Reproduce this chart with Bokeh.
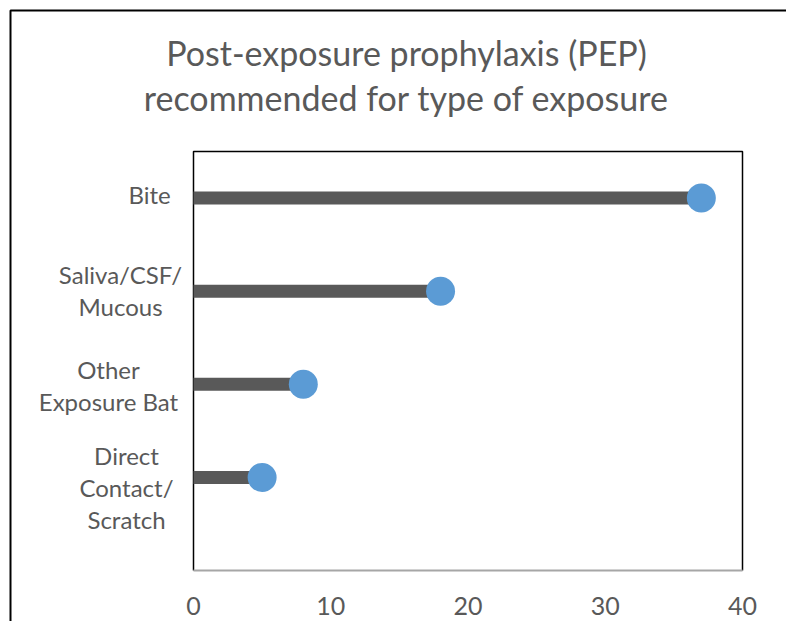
from bokeh.plotting import figure
from bokeh.models import Range1d, FixedTicker, LinearAxis
from bokeh.core.properties import value
from bokeh.embed import file_html
from bokeh.resources import INLINE

# ---- data ----
categories = ["Direct\nContact/\nScratch", "Other\nExposure Bat", "Saliva/CSF/\nMucous", "Bite"]
values = [5, 8, 18, 37]
x_ticks = [0, 10, 20, 30, 40]
y_max = 4.5
title_lines = ["Post-exposure prophylaxis (PEP)", "recommended for type of exposure"]

# ---- styles / layout (pixels from figure top-left) ----
FONT = "Lato"
GREY_TEXT = "#595959"
LINE_COLOR = "#595959"
DOT_COLOR = "#5B9BD5"
W, H = 786, 621
AREA_LEFT, AREA_RIGHT = 193, 742
AREA_TOP, AREA_BOTTOM = 151, 570
BORDER_X, BORDER_Y = 10, 10
label_x_offsets = [-67, -85, -73, -44]
label_y_offsets = [10, 1, -1, -4]
title_centre_x = 406
title_centre_y = [52, 97]

positions = list(range(1, len(categories) + 1))

ppu_x = (AREA_RIGHT - AREA_LEFT) / (x_ticks[-1] - x_ticks[0])
ppu_y = (AREA_BOTTOM - AREA_TOP) / y_max
x_start = x_ticks[0] - AREA_LEFT / ppu_x
x_end = x_ticks[-1] + (W - AREA_RIGHT) / ppu_x
y_start = -(H - AREA_BOTTOM) / ppu_y
y_end = y_max + AREA_TOP / ppu_y

def px_to_x(px):
    return x_start + px / ppu_x

def px_to_y(py):
    return y_end - py / ppu_y

p = figure(width=W, height=H, output_backend="svg", toolbar_location=None,
           x_range=Range1d(x_start, x_end), y_range=Range1d(y_start, y_end),
           x_axis_type=None, y_axis_type=None,
           min_border_left=0, min_border_right=0, min_border_top=0, min_border_bottom=0)

p.background_fill_color = "white"
p.border_fill_color = "white"
p.outline_line_color = None
p.grid.visible = False

xaxis = LinearAxis(fixed_location=0, ticker=FixedTicker(ticks=x_ticks),
                   bounds=(x_ticks[0], x_ticks[-1]))
xaxis.major_tick_line_color = None
xaxis.minor_tick_line_color = None
xaxis.axis_line_color = "#a6a6a6"
xaxis.axis_line_width = 2
xaxis.major_label_text_font = FONT
xaxis.major_label_text_font_size = "25px"
xaxis.major_label_text_color = GREY_TEXT
xaxis.major_label_standoff = 20
p.add_layout(xaxis, "below")

# outer chart border (left and top)
p.line(x=[px_to_x(BORDER_X), px_to_x(BORDER_X), px_to_x(W)],
       y=[px_to_y(H), px_to_y(BORDER_Y), px_to_y(BORDER_Y)],
       line_color="black", line_width=2)

# plot-area box (left, top, right sides)
p.line(x=[x_ticks[0], x_ticks[0], x_ticks[-1], x_ticks[-1]], y=[0, y_max, y_max, 0],
       line_color="black", line_width=1.5)

p.segment(x0=[x_ticks[0]] * len(values), y0=positions, x1=values, y1=positions,
          line_width=13, line_color=LINE_COLOR, line_cap="butt")
p.scatter(x=values, y=positions, size=29, fill_color=DOT_COLOR, line_color=None)

p.text(x=[x_ticks[0]] * len(categories), y=positions, text=categories,
       x_offset=label_x_offsets, y_offset=label_y_offsets,
       text_align="center", text_baseline="middle",
       text_font=value(FONT), text_font_size="24px", text_color=GREY_TEXT,
       text_line_height=1.1)

p.text(x=[px_to_x(title_centre_x)] * 2, y=[px_to_y(v) for v in title_centre_y], text=title_lines,
       text_align="center", text_baseline="middle",
       text_font=value(FONT), text_font_size="34px", text_color=GREY_TEXT)

open("out.html", "w").write(file_html(p, INLINE))
